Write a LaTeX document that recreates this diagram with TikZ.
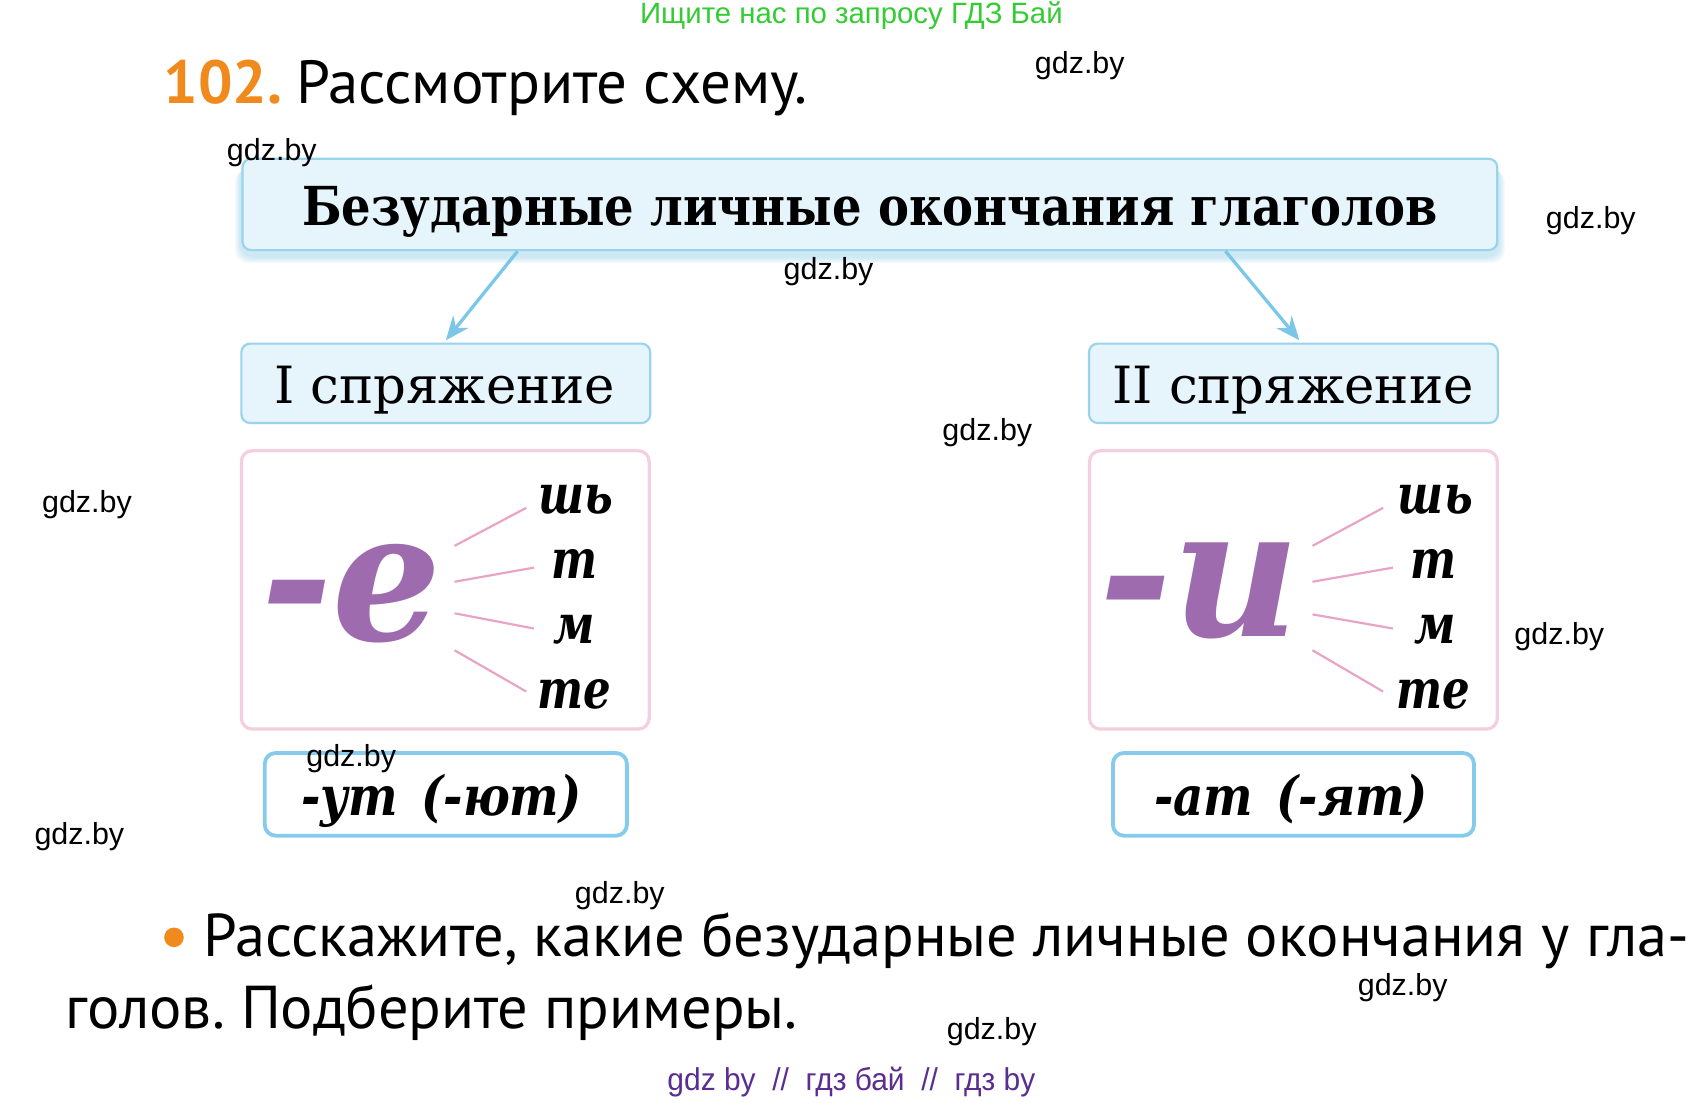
\documentclass[tikz,border=0pt]{standalone}
\usepackage{fontspec}
\usepackage{graphicx}
\setmainfont{DejaVu Serif}
\newfontfamily\sch{DejaVu Serif}
\newfontfamily\pts{PT Sans}
\newfontfamily\wm{Liberation Sans}
\usetikzlibrary{arrows.meta}
\frenchspacing
\definecolor{boxfill}{HTML}{E6F4FC}
\definecolor{boxline}{HTML}{9AD3EC}
\definecolor{arrowc}{HTML}{7CC6E8}
\definecolor{pinkb}{HTML}{F4CFE0}
\definecolor{fanc}{HTML}{E9A3C4}
\definecolor{endline}{HTML}{86CBEB}
\definecolor{purp}{HTML}{9E6BAF}
\definecolor{orng}{HTML}{F08A1C}
\definecolor{grn}{HTML}{33CC33}
\definecolor{foot}{HTML}{5A2D91}
\newcommand{\fEnd}{\sch\bfseries\itshape\fontsize{25}{30}\selectfont}
\newcommand{\fBig}{\sch\bfseries\itshape\fontsize{83}{90}\selectfont}
\newcommand{\fTitle}{\sch\bfseries\fontsize{24.7}{30}\selectfont}
\newcommand{\fConj}{\sch\fontsize{23.6}{28}\selectfont}
\newcommand{\fHead}{\pts\fontsize{28}{32}\selectfont}
\newcommand{\fQ}{\pts\fontsize{27.8}{32}\selectfont}
\newcommand{\nx}[2]{\scalebox{#1}[1]{#2}}
\begin{document}
\begin{tikzpicture}[x=0.5pt,y=-0.5pt,
  bluebox/.style={draw=boxline, fill=boxfill, line width=1pt, rounded corners=4pt, inner sep=0pt},
  pinkbox/.style={draw=pinkb, fill=white, line width=1.5pt, rounded corners=5pt, inner sep=0pt},
  endbox/.style={draw=endline, fill=white, line width=1.75pt, rounded corners=5pt, inner sep=0pt},
  conn/.style={draw=arrowc, line width=1.5pt, -{Stealth[length=11pt,width=9pt]}},
  fan/.style={draw=fanc, line width=1pt},
  ending/.style={font=\fEnd, anchor=base, inner sep=0pt},
  wmark/.style={font=\wm\fontsize{14}{16}\selectfont, text=black, inner sep=0pt},
  plain/.style={inner sep=0pt}]
\useasboundingbox[fill=white] (0,0) rectangle (1568,1013.4);

% header
\node[plain, font=\wm\fontsize{13.5}{16}\selectfont, text=grn] (hdr) at (783,14) {Ищите нас по запросу ГДЗ Бай};
\node[plain, anchor=base west, font=\fHead\bfseries, text=orng] (num) at (150,95) {102.};
\node[plain, anchor=base west, font=\fHead] (task) at (272,95) {Рассмотрите схему.};

% shadow of top box
\foreach \i in {1,...,6}{
  \fill[arrowc, opacity=0.07, rounded corners=6pt] (222-\i,150+\i) rectangle (1378+\i,236+\i);
}
\node[bluebox, minimum width=577pt, minimum height=42pt] (top) at (800,188) {};
\node[plain, font=\fTitle, anchor=base] (toptext) at (800,207) {\nx{0.865}{Безударные личные окончания глаголов}};

\node[bluebox, minimum width=188pt, minimum height=36.5pt] (c1) at (410,352.5) {};
\node[plain, font=\fConj, anchor=base] (c1t) at (409,371) {I спряжение};
\node[bluebox, minimum width=188pt, minimum height=36.5pt] (c2) at (1189.5,352.5) {};
\node[plain, font=\fConj, anchor=base] (c2t) at (1189,371) {II спряжение};

\draw[conn] ([xshift=-162pt]top.south) -- ([yshift=1pt]c1.north);
\draw[conn] ([xshift=163.5pt]top.south) -- ([xshift=2.75pt,yshift=1pt]c2.north);

% pink boxes
\node[pinkbox, minimum width=187.5pt, minimum height=128pt] (p1) at (409.5,542.5) {};
\node[pinkbox, minimum width=187.5pt, minimum height=128pt] (p2) at (1189.5,542.5) {};

\node[plain, font=\fBig, text=purp, anchor=base west] (bigE) at (240,589) {\nx{0.95}{-е}};
\node[plain, font=\fBig, text=purp, anchor=base west] (bigI) at (1011,585) {\nx{0.97}{-и}};

\node[ending] (l1) at (530,472) {\nx{0.8}{шь}};
\node[ending] (l2) at (528,532) {\nx{0.8}{т}};
\node[ending] (l3) at (528,592) {\nx{0.8}{м}};
\node[ending] (l4) at (528,652) {\nx{0.8}{те}};
\node[ending] (r1) at (1320,472) {\nx{0.8}{шь}};
\node[ending] (r2) at (1318,532) {\nx{0.8}{т}};
\node[ending] (r3) at (1320,592) {\nx{0.8}{м}};
\node[ending] (r4) at (1318,652) {\nx{0.8}{те}};

\draw[fan] (418,502) -- (484,467);
\draw[fan] (418,535) -- (491,522);
\draw[fan] (418,564) -- (491,578);
\draw[fan] (418,598) -- (484,636);
\draw[fan] (1207,502) -- (1272,467);
\draw[fan] (1207,535) -- (1281,522);
\draw[fan] (1207,565) -- (1281,578);
\draw[fan] (1207,598) -- (1272,636);

% ending boxes
\node[endbox, minimum width=166.5pt, minimum height=38pt] (e1) at (410,730.5) {};
\node[plain, font=\fEnd, anchor=base] (e1t) at (406,750) {\nx{0.86}{-ут\hspace{0.5em}(-ют)}};
\node[endbox, minimum width=166pt, minimum height=38pt] (e2) at (1189.5,730.5) {};
\node[plain, font=\fEnd, anchor=base] (e2t) at (1187,750) {\nx{0.86}{-ат\hspace{0.5em}(-ят)}};

% question
\fill[orng] (160,862) circle (4.5pt);
\node[plain, anchor=base west, font=\fQ] (q1) at (187,880) {Расскажите, какие безударные личные окончания у гла-};
\node[plain, anchor=base west, font=\fQ] (q2) at (60,946) {голов. Подберите примеры.};

% footer
\node[plain, text=foot] (ft) at (783,995) {\nx{0.95}{\wm\fontsize{14.5}{16}\selectfont gdz by\ \ //\ \ гдз бай\ \ //\ \ гдз by}};

% watermarks
\node[wmark] (w1) at (993,60) {gdz.by};
\node[wmark] (w2) at (250,140) {gdz.by};
\node[wmark] (w3) at (1463,203) {gdz.by};
\node[wmark] (w4) at (762,250) {gdz.by};
\node[wmark] (w5) at (908,398) {gdz.by};
\node[wmark] (w6) at (80,464) {gdz.by};
\node[wmark] (w7) at (1434,585) {gdz.by};
\node[wmark] (w8) at (323,698) {gdz.by};
\node[wmark] (w9) at (73,769) {gdz.by};
\node[wmark] (w10) at (570,824) {gdz.by};
\node[wmark] (w11) at (1290,908) {gdz.by};
\node[wmark] (w12) at (912,949) {gdz.by};
\end{tikzpicture}
\end{document}
